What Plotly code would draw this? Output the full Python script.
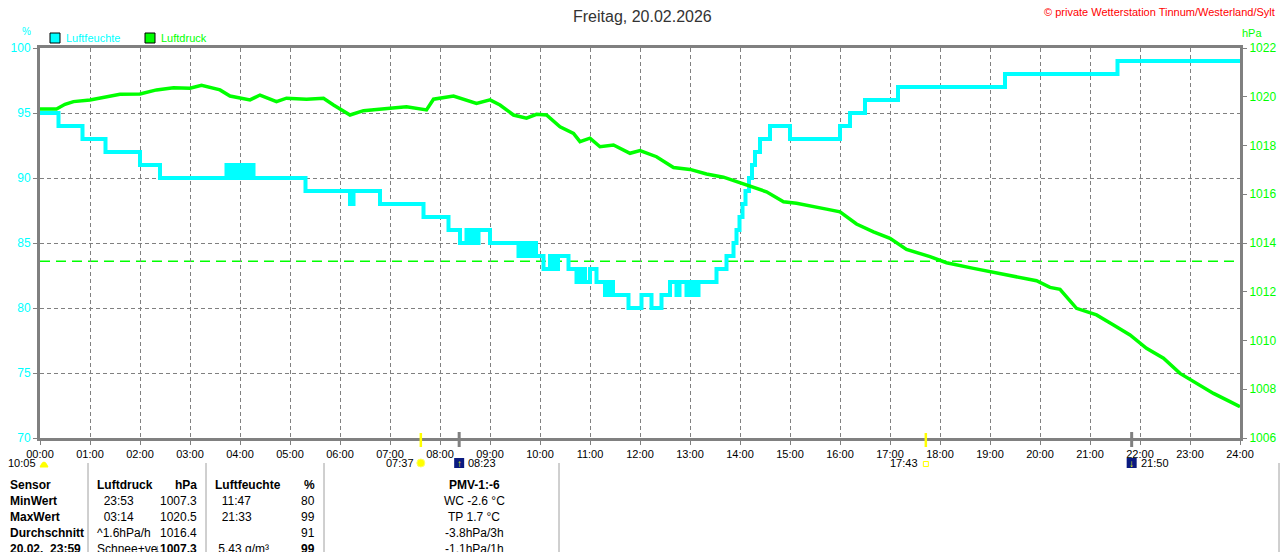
import plotly.graph_objects as go

# ---- data ----
title_text = 'Freitag, 20.02.2026'
copyright_text = '© private Wetterstation Tinnum/Westerland/Sylt'

# Luftfeuchte (%), step changes: time in hours -> new value
hum_time = [0.00, 0.37, 0.85, 1.31, 2.00, 2.40,
            3.73, 3.76, 3.79, 3.83, 3.86, 3.90, 3.93, 3.97, 4.00, 4.04, 4.07, 4.11, 4.14, 4.18, 4.21, 4.27,
            5.31, 6.20, 6.27, 6.80, 7.67, 8.17, 8.40,
            8.53, 8.57, 8.61, 8.65, 8.69, 8.73, 8.77,
            9.00, 9.57, 9.61, 9.65, 9.69, 9.73, 9.77, 9.80, 9.87, 9.92, 10.07,
            10.20, 10.24, 10.28, 10.32, 10.36, 10.57,
            10.73, 10.77, 10.81, 10.85, 10.90, 11.00, 11.13,
            11.30, 11.34, 11.38, 11.42, 11.46, 11.77, 12.03, 12.23, 12.43, 12.60,
            12.73, 12.79, 12.93, 12.97, 13.02, 13.06, 13.12, 13.17, 13.53, 13.73,
            13.87, 13.93, 13.99, 14.05, 14.11, 14.18, 14.24, 14.30, 14.40, 14.60, 15.00,
            16.00, 16.20, 16.50, 17.16, 19.30, 21.55, 24.00]
hum_value = [95, 94, 93, 92, 91, 90,
             91, 90, 91, 90, 91, 90, 91, 90, 91, 90, 91, 90, 91, 90, 91, 90,
             89, 88, 89, 88, 87, 86, 85,
             86, 85, 86, 85, 86, 85, 86,
             85, 84, 85, 84, 85, 84, 85, 84, 85, 84, 83,
             84, 83, 84, 83, 84, 83,
             82, 83, 82, 83, 82, 83, 82,
             81, 82, 81, 82, 81, 80, 81, 80, 81, 82,
             81, 82, 81, 82, 81, 82, 81, 82, 83, 84,
             85, 86, 87, 88, 89, 90, 91, 92, 93, 94, 93,
             94, 95, 96, 97, 98, 99, 99]

# Luftdruck (hPa)
press_time = [0.00, 0.33, 0.50, 0.67, 1.00, 1.33, 1.60, 2.00, 2.33, 2.67,
              3.00, 3.23, 3.60, 3.80, 4.20, 4.40, 4.73, 4.93, 5.33, 5.67,
              5.87, 6.20, 6.47, 7.00, 7.33, 7.73, 7.87, 8.27, 8.73, 9.00,
              9.20, 9.47, 9.73, 9.93, 10.13, 10.40, 10.67, 10.80, 11.00, 11.20,
              11.47, 11.80, 12.00, 12.33, 12.67, 13.00, 13.33, 13.67, 13.93, 14.20,
              14.53, 14.87, 15.13, 15.73, 16.00, 16.33, 16.67, 17.00, 17.33, 17.80,
              18.13, 18.67, 19.13, 19.53, 19.93, 20.20, 20.40, 20.73, 21.13, 21.47,
              21.80, 22.13, 22.47, 22.80, 23.13, 23.47, 23.80, 24.00]
press_value = [1019.50, 1019.50, 1019.69, 1019.80, 1019.87, 1019.98, 1020.10, 1020.11, 1020.28, 1020.37,
               1020.35, 1020.47, 1020.28, 1020.03, 1019.87, 1020.07, 1019.80, 1019.94, 1019.90, 1019.94,
               1019.66, 1019.25, 1019.43, 1019.53, 1019.59, 1019.46, 1019.90, 1020.03, 1019.73, 1019.87,
               1019.66, 1019.25, 1019.12, 1019.28, 1019.25, 1018.77, 1018.50, 1018.16, 1018.30, 1017.95,
               1018.02, 1017.68, 1017.79, 1017.54, 1017.10, 1017.02, 1016.83, 1016.70, 1016.51, 1016.31,
               1016.10, 1015.69, 1015.63, 1015.39, 1015.28, 1014.78, 1014.46, 1014.19, 1013.74, 1013.44,
               1013.19, 1012.96, 1012.78, 1012.59, 1012.45, 1012.18, 1012.10, 1011.32, 1011.05, 1010.64,
               1010.23, 1009.68, 1009.27, 1008.65, 1008.24, 1007.83, 1007.49, 1007.28]

normal_pressure = 1013.25

hour_labels = ['%02d:00' % h for h in range(25)]

day_length = '10:05'
sun_rise = '07:37'
sun_set = '17:43'
moon_rise = '08:23'
moon_set = '21:50'

# table
row_labels = ['Sensor', 'MinWert', 'MaxWert', 'Durchschnitt', '20.02.  23:59']
druck_left = ['Luftdruck', '\u00a0\u00a023:53', '\u00a0\u00a003:14', '^1.6hPa/h', 'Schnee+ve']
druck_right = ['hPa', '1007.3', '1020.5', '1016.4', '↓1007.3']
feuchte_left = ['Luftfeuchte', '\u00a0\u00a011:47', '\u00a0\u00a021:33', '', '\u00a05.43 g/m³']
feuchte_right = ['%', '80', '99', '91', '99']
extra_col = ['PMV-1:-6', 'WC -2.6 °C', 'TP 1.7 °C', '-3.8hPa/3h', '-1.1hPa/1h']


def to_hours(s):
    h, m = s.split(':')
    return int(h) + int(m) / 60.0


# ---- geometry helpers (pixel -> paper) ----
W, H = 1280, 552
L, R, T, B = 40, 40, 48, 114


def px(x):
    return (x - L) / (W - L - R)


def py(y):
    return (H - B - y) / (H - T - B)


CYAN = '#00FFFF'
GREEN = '#00FF00'
GRAY = '#808080'
FONT = 'Liberation Sans, Arial, sans-serif'

fig = go.Figure()
fig.add_trace(go.Scatter(x=hum_time, y=hum_value, mode='lines', yaxis='y',
                         line=dict(color=CYAN, width=4, shape='hv'),
                         hoverinfo='skip', showlegend=False))
fig.add_trace(go.Scatter(x=press_time, y=press_value, mode='lines', yaxis='y2',
                         line=dict(color=GREEN, width=3.5),
                         hoverinfo='skip', showlegend=False))

shapes = []
annotations = []

# reference line at normal pressure
shapes.append(dict(type='line', xref='x', yref='y2', x0=0, x1=24,
                   y0=normal_pressure, y1=normal_pressure, layer='below',
                   line=dict(color=GREEN, width=1.5, dash='10px,6px')))

# title and copyright
annotations.append(dict(text=title_text, xref='paper', yref='paper', x=px(642), y=py(16),
                        xanchor='center', yanchor='middle', showarrow=False,
                        font=dict(size=16, color='#333333', family=FONT)))
annotations.append(dict(text=copyright_text, xref='paper', yref='paper', x=px(1277), y=py(12),
                        xanchor='right', yanchor='middle', showarrow=False,
                        font=dict(size=11, color='#FF0000', family=FONT)))

# axis units
annotations.append(dict(text='%', xref='paper', yref='paper', x=px(26), y=py(32),
                        xanchor='center', yanchor='middle', showarrow=False,
                        font=dict(size=10, color=CYAN, family=FONT)))
annotations.append(dict(text='hPa', xref='paper', yref='paper', x=px(1240), y=py(33),
                        xanchor='left', yanchor='middle', showarrow=False,
                        font=dict(size=11, color=GREEN, family=FONT)))

# legend boxes
for x0, col, name in [(50, CYAN, 'Luftfeuchte'), (145, GREEN, 'Luftdruck')]:
    shapes.append(dict(type='rect', xref='paper', yref='paper',
                       x0=px(x0), x1=px(x0 + 10), y0=py(43), y1=py(33),
                       fillcolor=col, line=dict(color='black', width=1)))
    annotations.append(dict(text=name, xref='paper', yref='paper', x=px(x0 + 14), y=py(38),
                            xanchor='left', yanchor='middle', showarrow=False,
                            font=dict(size=11, color=col, family=FONT)))

# sun / moon markers on the time axis
for t in [sun_rise, sun_set]:
    shapes.append(dict(type='line', xref='x', yref='paper', x0=to_hours(t), x1=to_hours(t),
                       y0=py(447), y1=py(433), line=dict(color='#FFFF00', width=2.5)))
for t in [moon_rise, moon_set]:
    shapes.append(dict(type='line', xref='x', yref='paper', x0=to_hours(t), x1=to_hours(t),
                       y0=py(447), y1=py(432), line=dict(color=GRAY, width=3)))

small = dict(size=11, color='black', family=FONT)

# day length
annotations.append(dict(text=day_length, xref='paper', yref='paper', x=px(38), y=py(463),
                        xanchor='right', yanchor='middle', showarrow=False, font=small))
shapes.append(dict(type='path', xref='paper', yref='paper',
                   path='M %f %f Q %f %f %f %f Z' % (px(40), py(467), px(44), py(457), px(48), py(467)),
                   fillcolor='#FFFF00', line=dict(color='#FFFF00', width=1)))

# sunrise
sr = to_hours(sun_rise)
annotations.append(dict(text=sun_rise, xref='x', yref='paper', x=sr, y=py(463), xshift=-5,
                        xanchor='right', yanchor='middle', showarrow=False, font=small))
shapes.append(dict(type='circle', xref='x', yref='paper', xsizemode='pixel', ysizemode='pixel',
                   xanchor=sr, yanchor=py(463), x0=-4, x1=4, y0=-4, y1=4,
                   fillcolor='#FFFF00', line=dict(color='#FFFF66', width=1)))

# sunset
ss = to_hours(sun_set)
annotations.append(dict(text=sun_set, xref='x', yref='paper', x=ss, y=py(463), xshift=-6,
                        xanchor='right', yanchor='middle', showarrow=False, font=small))
shapes.append(dict(type='rect', xref='x', yref='paper', xsizemode='pixel', ysizemode='pixel',
                   xanchor=ss, yanchor=py(464), x0=-2.5, x1=2.5, y0=-2.5, y1=2.5,
                   fillcolor='white', line=dict(color='#FFFF00', width=1)))

# moon rise / set
for t, arrow in [(moon_rise, '↑'), (moon_set, '↓')]:
    mh = to_hours(t)
    shapes.append(dict(type='rect', xref='x', yref='paper', xsizemode='pixel', ysizemode='pixel',
                       xanchor=mh, yanchor=py(463), x0=-5, x1=5, y0=-5, y1=5,
                       fillcolor='#0A1A80', line=dict(width=0)))
    annotations.append(dict(text='<b>%s</b>' % arrow, xref='x', yref='paper', x=mh, y=py(463),
                            xanchor='center', yanchor='middle', showarrow=False,
                            font=dict(size=10, color='#FFFF00', family=FONT)))
    annotations.append(dict(text=t, xref='x', yref='paper', x=mh, y=py(463), xshift=7,
                            xanchor='left', yanchor='middle', showarrow=False, font=small))

# table separators
for x in [88, 206, 324, 559, 1279]:
    shapes.append(dict(type='line', xref='paper', yref='paper', x0=px(x), x1=px(x),
                       y0=py(552), y1=py(463), line=dict(color='#A0A0A0', width=1)))

# table text
row_y = [485, 501, 517, 533, 549]
tfont = dict(size=12, color='black', family=FONT)


def cell(text, x, y, anchor, bold=False):
    if text == '':
        return
    annotations.append(dict(text=('<b>%s</b>' % text) if bold else text,
                            xref='paper', yref='paper', x=px(x), y=py(y),
                            xanchor=anchor, yanchor='middle', showarrow=False, font=tfont))


for i, y in enumerate(row_y):
    head = i == 0
    last = i == len(row_y) - 1
    cell(row_labels[i], 8, y, 'left', True)
    cell(druck_left[i], 95, y, 'left', head)
    cell(druck_right[i], 199, y, 'right', head or last)
    cell(feuchte_left[i], 213, y, 'left', head)
    cell(feuchte_right[i], 317, y, 'right', head or last)
    cell(extra_col[i], 474, y, 'center', head)

grid = dict(showgrid=True, gridcolor=GRAY, gridwidth=1, griddash='4px,3px')

fig.update_layout(
    width=W, height=H, autosize=False,
    margin=dict(l=L, r=R, t=T, b=B, pad=0, autoexpand=False),
    paper_bgcolor='white', plot_bgcolor='white',
    font=dict(family=FONT, size=11, color='black'),
    hovermode=False,
    showlegend=False,
    xaxis=dict(range=[0, 24], tickvals=list(range(25)), ticktext=hour_labels,
               showline=True, linecolor=GRAY, linewidth=3, mirror=True, automargin=False,
               ticks='outside', ticklen=4, tickcolor=GRAY, tickwidth=1,
               tickfont=dict(size=11, color='black'), zeroline=False, **grid),
    yaxis=dict(range=[70, 100], tick0=70, dtick=5, automargin=False,
               showline=True, linecolor=GRAY, linewidth=3,
               ticks='outside', ticklen=4, tickcolor=GRAY, tickwidth=1,
               tickfont=dict(size=12, color=CYAN), zeroline=False, **grid),
    yaxis2=dict(range=[1006, 1022], tick0=1006, dtick=2, overlaying='y', side='right',
                automargin=False, showgrid=False, showline=True, linecolor=GRAY, linewidth=3,
                ticks='outside', ticklen=4, tickcolor=GRAY, tickwidth=1,
                tickfont=dict(size=12, color=GREEN), zeroline=False),
    shapes=shapes,
    annotations=annotations,
)

page_fix = (
    "document.documentElement.style.overflow='hidden';"
    "document.body.style.margin='0';document.body.style.padding='0';"
)

fig.write_html('out.html', config={'displayModeBar': False, 'responsive': False},
               post_script=page_fix)
